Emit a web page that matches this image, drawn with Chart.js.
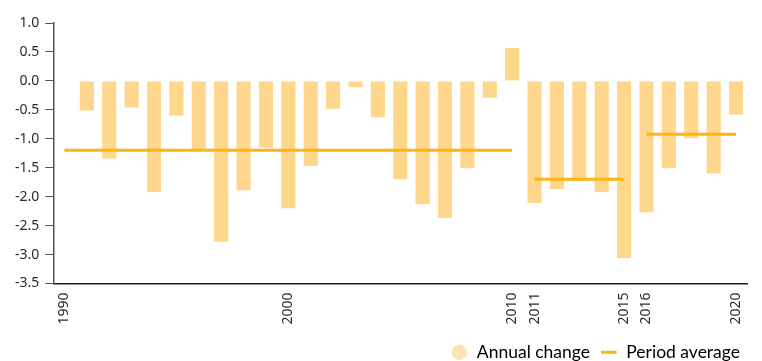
<!DOCTYPE html>
<html>
<head>
<meta charset="utf-8">
<script src="https://cdn.jsdelivr.net/npm/chart.js@4.4.0/dist/chart.umd.min.js"></script>
<style>
  html, body { margin: 0; padding: 0; background: #fff; }
  #wrap { width: 762px; height: 361px; }
</style>
</head>
<body>
<div id="wrap"><canvas id="chart" width="762" height="361"></canvas></div>
<script>
// years on the x axis (1990 has no bar, only the start of the first average)
var years = ['1990','1991','1992','1993','1994','1995','1996','1997','1998','1999',
             '2000','2001','2002','2003','2004','2005','2006','2007','2008','2009',
             '2010','2011','2012','2013','2014','2015','2016','2017','2018','2019','2020'];

var annualChange = [null, -0.51, -1.34, -0.46, -1.92, -0.60, -1.21, -2.78, -1.89, -1.15,
                    -2.20, -1.47, -0.48, -0.11, -0.63, -1.70, -2.13, -2.37, -1.51, -0.29,
                    0.57, -2.11, -1.87, -1.73, -1.92, -3.06, -2.27, -1.51, -0.99, -1.60, -0.58];

// period averages: from / to / value
var periodFrom = ['1990', '2011', '2016'];
var periodTo = ['2010', '2015', '2020'];
var periodAverage = [-1.20, -1.70, -0.92];

// only these years get a label
var labelledYears = ['1990', '2000', '2010', '2011', '2015', '2016', '2020'];

var yTicks = [1.0, 0.5, 0.0, -0.5, -1.0, -1.5, -2.0, -2.5, -3.0, -3.5];

var barColor = '#FED68C';
var legendDot = '#FEE3B6';
var lineColor = '#FDB515';
var textColor = '#2b2b2b';

var datasets = [];
for (var i = 0; i < periodAverage.length; i++) {
  datasets.push({
    type: 'line',
    label: 'Period average',
    data: [{x: periodFrom[i], y: periodAverage[i]}, {x: periodTo[i], y: periodAverage[i]}],
    borderColor: lineColor,
    borderWidth: 3,
    pointRadius: 0,
    fill: false,
    order: 0
  });
}
datasets.push({
  type: 'bar',
  label: 'Annual change',
  data: annualChange,
  backgroundColor: barColor,
  borderWidth: 0,
  barPercentage: 0.63,
  categoryPercentage: 1.0,
  order: 1
});

var ctx = document.getElementById('chart').getContext('2d');
var myChart = new Chart(ctx, {
  data: {
    labels: years,
    datasets: datasets
  },
  options: {
    responsive: false,
    animation: false,
    layout: {
      padding: {top: 23, right: 12, left: 9, bottom: -10}
    },
    plugins: {
      tooltip: {enabled: false},
      legend: {
        position: 'bottom',
        align: 'end',
        labels: {
          usePointStyle: true,
          boxHeight: 11,
          padding: 10,
          color: textColor,
          font: {family: 'Lato', size: 17.5},
          generateLabels: function(chart) {
            return [
              {text: 'Annual change', fillStyle: legendDot, strokeStyle: legendDot,
               lineWidth: 0, pointStyle: 'circle', datasetIndex: 3},
              {text: 'Period average', fillStyle: lineColor, strokeStyle: lineColor,
               lineWidth: 3, pointStyle: 'line', datasetIndex: 0}
            ];
          }
        }
      }
    },
    scales: {
      x: {
        type: 'category',
        grid: {display: false, drawTicks: false},
        border: {display: true, color: '#1a1a1a', width: 1.5},
        ticks: {
          autoSkip: false,
          maxRotation: 90,
          minRotation: 90,
          padding: 9,
          color: textColor,
          font: {family: 'Noto Sans', size: 14},
          callback: function(value) {
            var y = this.getLabelForValue(value);
            return labelledYears.indexOf(y) >= 0 ? y : '';
          }
        }
      },
      y: {
        min: -3.5,
        max: 1.0,
        afterBuildTicks: function(axis) {
          axis.ticks = yTicks.map(function(v) { return {value: v}; });
        },
        grid: {
          drawOnChartArea: false,
          drawTicks: true,
          tickLength: 8,
          color: '#555'
        },
        border: {display: true, color: '#555', width: 1.5},
        ticks: {
          padding: 6,
          color: textColor,
          font: {family: 'Noto Sans', size: 14},
          callback: function(value) { return value.toFixed(1); }
        }
      }
    }
  }
});
</script>
</body>
</html>
